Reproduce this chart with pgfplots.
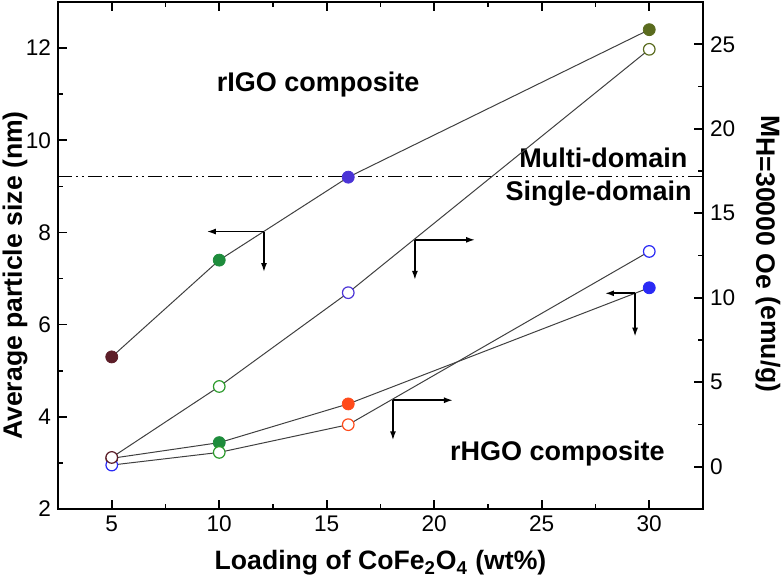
\documentclass[border=0pt]{standalone}
\usepackage{fontspec}
\setmainfont{Liberation Sans}
\usepackage{pgfplots}
\pgfplotsset{compat=1.18}
\usetikzlibrary{arrows.meta}
\definecolor{cMaroon}{HTML}{5C1E28}
\definecolor{cGreen}{HTML}{1E8C3C}
\definecolor{cGreenO}{HTML}{2A9A2A}
\definecolor{cViolet}{HTML}{4B34D6}
\definecolor{cOlive}{HTML}{5A6B1E}
\definecolor{cRed}{HTML}{FF4A1A}
\definecolor{cBlue}{HTML}{2A2AF5}
\definecolor{cLine}{HTML}{404040}
\newcommand{\lblfont}{\fontsize{13.3}{15}\selectfont\bfseries}
\pgfplotsset{
  common/.style={
    scale only axis, width=322.5pt, height=253.5pt,
    xmin=2.5, xmax=32.5,
    tick align=inside,
    major tick length=4.5pt, minor tick length=2.5pt,
    axis line style={line width=1pt},
    every tick/.style={line width=0.8pt, black},
    /pgf/number format/assume math mode=true,
    ticklabel style={font=\fontsize{11.3}{13}\selectfont},
    label style={font=\lblfont},
    clip=false,
  },
  fclass/.style={scatter, only marks, scatter src=explicit symbolic,
    scatter/classes={
      ma={mark=*, mark size=3pt, draw=cMaroon, fill=cMaroon},
      gr={mark=*, mark size=3pt, draw=cGreen, fill=cGreen},
      vi={mark=*, mark size=3pt, draw=cViolet, fill=cViolet},
      ol={mark=*, mark size=3pt, draw=cOlive, fill=cOlive},
      re={mark=*, mark size=3pt, draw=cRed, fill=cRed},
      bl={mark=*, mark size=3pt, draw=cBlue, fill=cBlue}}},
  oclass/.style={scatter, only marks, scatter src=explicit symbolic,
    scatter/classes={
      ma={mark=*, mark size=2.9pt, draw=cMaroon, fill=white, line width=0.6pt},
      gr={mark=*, mark size=2.9pt, draw=cGreenO, fill=white, line width=0.6pt},
      vi={mark=*, mark size=2.9pt, draw=cViolet, fill=white, line width=0.6pt},
      ol={mark=*, mark size=2.9pt, draw=cOlive, fill=white, line width=0.6pt},
      re={mark=*, mark size=2.9pt, draw=cRed, fill=white, line width=0.6pt},
      bl={mark=*, mark size=2.9pt, draw=cBlue, fill=white, line width=0.6pt}}},
}
\begin{document}
\begin{tikzpicture}
\begin{axis}[common,
  ymin=2, ymax=13,
  xtick={5,10,...,30}, ytick={2,4,...,12},
  minor x tick num=1, minor y tick num=1,
  xtick pos=both, ytick pos=left,
  xlabel={Loading of CoFe\textsubscript{2}O\textsubscript{4} (wt\%)},
  ylabel={Average particle size (nm)},
  xlabel style={at={(axis description cs:0.5,-0.1065)}, anchor=center},
  ylabel style={at={(axis description cs:-0.0667,0.4606)}, anchor=center},
]
% rIGO particle size
\addplot[cLine, line width=0.5pt] table {
x y
5 5.3
10 7.4
16 9.2
30 12.4
};
% rHGO particle size
\addplot[cLine, line width=0.5pt] table {
x y
5 3.1
10 3.44
16 4.28
30 6.8
};
\addplot[fclass] table[meta=c] {
x y c
5 5.3 ma
10 7.4 gr
16 9.2 vi
30 12.4 ol
5 3.1 ma
10 3.44 gr
16 4.28 re
30 6.8 bl
};
% domain boundary
\draw[black, line width=0.7pt, dash pattern=on 7pt off 2pt on 1pt off 2pt on 1pt off 2pt]
  (axis cs:2.5,9.21) -- (axis cs:32.5,9.21);
% text
\node[font=\fontsize{13.5}{15}\selectfont\bfseries, anchor=center] at (axis cs:14.6,11.22) {rIGO composite};
\node[font=\fontsize{13.5}{15}\selectfont\bfseries, anchor=east] at (axis cs:32.1,9.62) {Multi-domain};
\node[font=\fontsize{13.5}{15}\selectfont\bfseries, anchor=east] at (axis cs:32.3,8.84) {Single-domain};
\node[font=\fontsize{13.5}{15}\selectfont\bfseries, anchor=center] at (axis cs:25.73,3.21) {rHGO composite};
% arrows
\begin{scope}[line width=0.8pt, -{Latex[length=4.5pt,width=3pt]}]
\draw (axis cs:12.08,8.02) -- (axis cs:9.42,8.02);
\draw (axis cs:12.08,8.02) -- (axis cs:12.08,7.14);
\draw (axis cs:19.1,7.84) -- (axis cs:21.9,7.84);
\draw (axis cs:19.1,7.84) -- (axis cs:19.1,6.97);
\draw (axis cs:29.34,6.68) -- (axis cs:27.94,6.68);
\draw (axis cs:29.34,6.68) -- (axis cs:29.34,5.74);
\draw (axis cs:18.08,4.36) -- (axis cs:20.87,4.36);
\draw (axis cs:18.08,4.36) -- (axis cs:18.08,3.49);
\end{scope}
\end{axis}
\begin{axis}[common,
  ymin=-2.5, ymax=27.5,
  hide x axis,
  axis y line*=right,
  ytick={0,5,...,25}, minor y tick num=1,
  ylabel={M\raisebox{-0.35ex}{H=30000 Oe} (emu/g)},
  ylabel style={at={(axis description cs:1.1008,0.503)}, anchor=center, rotate=180},
]
% rIGO magnetization
\addplot[cLine, line width=0.5pt] table {
x y
5 0.55
10 4.75
16 10.3
30 24.7
};
% rHGO magnetization
\addplot[cLine, line width=0.5pt] table {
x y
5 0.1
10 0.85
16 2.49
30 12.74
};
\addplot[oclass] table[meta=c] {
x y c
5 0.1 bl
10 0.85 gr
16 2.49 re
30 12.74 bl
5 0.55 ma
10 4.75 gr
16 10.3 vi
30 24.7 ol
};
\end{axis}
\pgfresetboundingbox
\path[use as bounding box] (-29pt,-35.5pt) rectangle (362pt,254.5pt);
\end{tikzpicture}
\end{document}
